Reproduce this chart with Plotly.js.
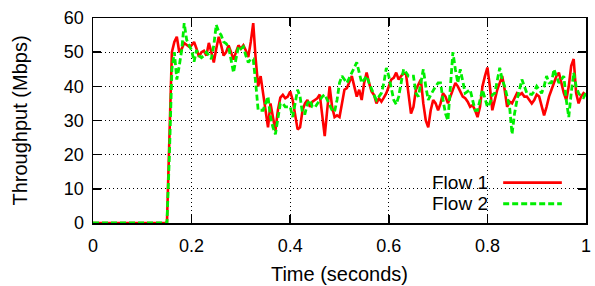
<!DOCTYPE html>
<html>
<head>
<meta charset="utf-8">
<script src="https://cdn.plot.ly/plotly-3.0.1.min.js"></script>
<style>html,body{margin:0;padding:0;background:#fff;}#chart{width:595px;height:286px;}</style>
</head>
<body>
<div id="chart"></div>
<script>
// Idle period (no traffic) before flows start
const idleTimes = [0, 0.15];
const idleValues = [0, 0];
// Sampling grid of the throughput measurements (seconds)
const sampleStart = 0.155;
const sampleStep = 0.005;

// Flow 1 throughput (Mbps), one value per sample
const flow1 = [
  25, 50, 53, 54.5, 50, 51, 52.7, 52, 51.6, 52,
  53, 51, 48.6, 50, 50.4, 49, 52.7, 50, 47, 51,
  54.5, 52, 49, 50, 52, 50, 47.8, 50, 52, 51,
  52, 50.5, 48.6, 53, 58.5, 48, 40, 43, 38, 33,
  28, 35, 31, 27, 33, 36.7, 37.5, 36.5, 37, 38.5,
  36, 31, 27.4, 28, 33, 35, 36, 34, 35.5, 36,
  36.5, 37.6, 32, 25.4, 33, 40, 34, 31, 31.5, 31,
  35, 39, 39.5, 41, 43, 40, 37, 39, 36, 41,
  44, 41, 38.5, 37.5, 35, 36.5, 35.5, 36.7, 38, 40,
  42, 42.5, 44, 42, 43, 44, 43.5, 38, 32, 34,
  39, 40.5, 42, 35, 30, 28, 33, 36, 35, 33,
  35, 38, 37, 35, 37, 39, 41, 40, 38.5, 37,
  36.5, 35.5, 34, 34.5, 33, 31, 34, 40, 43, 45.5,
  40, 33, 36, 39, 41, 43, 39, 34, 35.5, 35,
  36.5, 38, 37.5, 38, 37, 37, 36, 35, 36, 37.6,
  37, 34, 31.5, 34, 37, 39, 41, 43, 44, 41,
  38, 36, 40, 46, 48, 38, 35, 37, 38, 37.5
];

// Flow 2 throughput (Mbps), one value per sample
const flow2 = [
  20, 45, 50, 42, 46, 50.7, 58.5, 53.6, 52, 50.6,
  47.2, 50.6, 49, 48.4, 49, 50, 49, 48, 52, 58,
  56, 55, 53, 52.5, 51.6, 48, 44, 48, 51.6, 51,
  51.6, 49, 47, 48, 48, 41, 33, 33, 33, 35,
  37, 31, 28, 26, 30, 35, 35, 34, 34, 34,
  31, 35, 39, 37, 32, 32, 35, 36, 34, 33.8,
  35, 36, 37, 37.6, 36, 34.7, 33, 32.6, 36, 41,
  43, 42, 41, 42.5, 44, 45, 47, 44, 41, 42,
  43, 41, 39, 37.5, 36, 37, 38, 41, 45.4, 43,
  39, 36, 34.7, 37, 41, 45, 44, 43, 43, 43,
  38, 37, 41, 45, 40, 36, 37.5, 39, 40, 41,
  41, 36, 32, 30, 40, 50, 45, 41, 45, 41,
  38, 38.5, 39, 36, 33, 33, 36, 39, 36.5, 34,
  35, 37.5, 38, 42, 45.4, 42, 40, 37, 34, 26,
  32, 36, 39, 42, 40, 38, 37.8, 37.6, 38.5, 40,
  39, 38, 40, 43, 41, 41, 45, 43, 41, 42,
  43, 36, 31, 38, 44, 40, 38, 37, 36.7, 38
];

const seriesNames = ['Flow 1', 'Flow 2'];
const xTickVals = [0, 0.2, 0.4, 0.6, 0.8, 1];
const xTickText = ['0', '0.2', '0.4', '0.6', '0.8', '1'];
const yTickVals = [0, 10, 20, 30, 40, 50, 60];
const yTickText = ['0', '10', '20', '30', '40', '50', '60'];

const sampleTimes = flow1.map((_, i) => +(sampleStart + i * sampleStep).toFixed(3));
const xs = idleTimes.concat(sampleTimes);

const FONT = 'Liberation Sans, Arial, Helvetica, sans-serif';
const RED = '#ff0000';
const GREEN = '#00ee00';

const traces = [
  {
    x: xs, y: idleValues.concat(flow1), name: seriesNames[0],
    type: 'scatter', mode: 'lines',
    line: {color: RED, width: 2.6}
  },
  {
    x: xs, y: idleValues.concat(flow2), name: seriesNames[1],
    type: 'scatter', mode: 'lines',
    line: {color: GREEN, width: 2.8, dash: '6px,3px'}
  }
];

const axisCommon = {
  showline: true, linecolor: '#000', linewidth: 1.5, mirror: 'allticks',
  ticks: 'inside', ticklen: 8, tickwidth: 1.5, tickcolor: '#000',
  showgrid: true, gridcolor: '#000', gridwidth: 1, griddash: '1px,3px',
  zeroline: false, fixedrange: true,
  tickfont: {family: FONT, size: 18, color: '#000'}
};

const layout = {
  width: 595, height: 286,
  margin: {l: 93, r: 9, t: 18, b: 63, pad: 0},
  paper_bgcolor: '#fff', plot_bgcolor: '#fff',
  showlegend: false,
  font: {family: FONT, color: '#000'},
  xaxis: Object.assign({}, axisCommon, {
    range: [0, 1], tickmode: 'array', tickvals: xTickVals, ticktext: xTickText,
    ticklabelstandoff: 6,
    title: {text: 'Time (seconds)', font: {family: FONT, size: 20, color: '#000'}, standoff: 12}
  }),
  yaxis: Object.assign({}, axisCommon, {
    range: [0, 60], tickmode: 'array', tickvals: yTickVals, ticktext: yTickText,
    ticklabelstandoff: 4,
    title: {text: 'Throughput (Mbps)', font: {family: FONT, size: 20, color: '#000'}, standoff: 31}
  }),
  shapes: [
    {type: 'rect', xref: 'paper', yref: 'paper', x0: 0.651, x1: 0.99, y0: 0.03, y1: 0.322,
     fillcolor: '#fff', line: {width: 0}, layer: 'between'},
    {type: 'line', xref: 'paper', yref: 'paper', x0: 0.832, x1: 0.951, y0: 0.197, y1: 0.197,
     line: {color: RED, width: 2.6}},
    {type: 'line', xref: 'paper', yref: 'paper', x0: 0.832, x1: 0.951, y0: 0.094, y1: 0.094,
     line: {color: GREEN, width: 2.8, dash: '6px,3px'}}
  ],
  annotations: [
    {xref: 'paper', yref: 'paper', x: 0.805, y: 0.197, xanchor: 'right', yanchor: 'middle',
     text: seriesNames[0], showarrow: false, font: {family: FONT, size: 19, color: '#000'}},
    {xref: 'paper', yref: 'paper', x: 0.805, y: 0.094, xanchor: 'right', yanchor: 'middle',
     text: seriesNames[1], showarrow: false, font: {family: FONT, size: 19, color: '#000'}}
  ]
};

Plotly.newPlot('chart', traces, layout, {displayModeBar: false, staticPlot: true});
</script>
</body>
</html>
